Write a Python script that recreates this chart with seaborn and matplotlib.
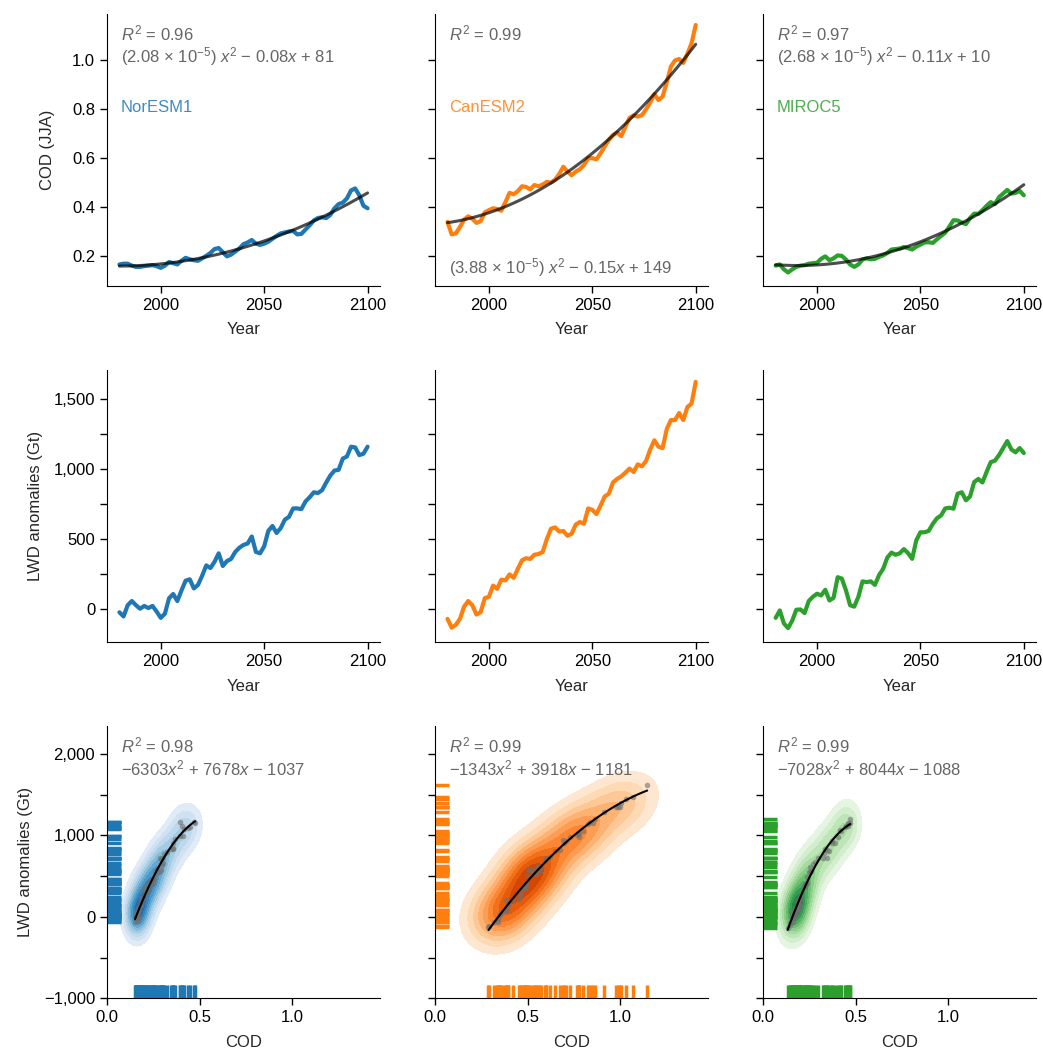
import numpy as np
import matplotlib
matplotlib.use('Agg')
import matplotlib.pyplot as plt
import seaborn as sns
from matplotlib.ticker import FuncFormatter

# Yillar (iki yilda bir okunan degerler)
years = np.arange(1980, 2101, 2)

models = ["NorESM1", "CanESM2", "MIROC5"]
colors = ["#1f77b4", "#ff7f0e", "#2ca02c"]
cmaps = ["Blues", "Oranges", "Greens"]

# COD (JJA) zaman serileri
cod_noresm = [0.165, 0.168, 0.168, 0.160, 0.155, 0.155, 0.158, 0.160, 0.162, 0.158,
              0.151, 0.160, 0.175, 0.170, 0.165, 0.180, 0.192, 0.186, 0.182, 0.180,
              0.190, 0.200, 0.212, 0.228, 0.232, 0.215, 0.198, 0.205, 0.218, 0.230,
              0.248, 0.255, 0.265, 0.250, 0.245, 0.250, 0.258, 0.270, 0.282, 0.292,
              0.296, 0.300, 0.302, 0.288, 0.290, 0.308, 0.325, 0.345, 0.355, 0.358,
              0.355, 0.368, 0.395, 0.412, 0.418, 0.435, 0.468, 0.476, 0.448, 0.405,
              0.395]
cod_canesm = [0.339, 0.288, 0.292, 0.318, 0.348, 0.362, 0.352, 0.335, 0.342, 0.378,
              0.387, 0.395, 0.392, 0.385, 0.420, 0.458, 0.452, 0.465, 0.485, 0.482,
              0.472, 0.490, 0.485, 0.492, 0.503, 0.500, 0.512, 0.535, 0.565, 0.545,
              0.530, 0.545, 0.555, 0.572, 0.600, 0.600, 0.595, 0.620, 0.648, 0.675,
              0.695, 0.705, 0.690, 0.728, 0.765, 0.775, 0.770, 0.776, 0.800, 0.828,
              0.862, 0.838, 0.852, 0.910, 0.975, 1.000, 1.006, 0.990, 1.028, 1.070,
              1.145]
cod_miroc = [0.160, 0.165, 0.145, 0.132, 0.145, 0.155, 0.160, 0.162, 0.168, 0.170,
             0.172, 0.188, 0.198, 0.182, 0.190, 0.202, 0.200, 0.185, 0.165, 0.155,
             0.165, 0.185, 0.190, 0.186, 0.188, 0.196, 0.202, 0.212, 0.226, 0.228,
             0.230, 0.236, 0.232, 0.226, 0.238, 0.246, 0.255, 0.256, 0.253, 0.268,
             0.282, 0.295, 0.320, 0.346, 0.345, 0.336, 0.330, 0.355, 0.373, 0.372,
             0.387, 0.405, 0.420, 0.412, 0.440, 0.455, 0.470, 0.455, 0.458, 0.466,
             0.448]

# LWD anomalileri (Gt)
lwd_noresm = [-20, -50, 30, 60, 30, 5, 25, 10, 25, -15,
              -60, -30, 80, 110, 60, 135, 205, 215, 150, 175,
              240, 314, 295, 340, 400, 310, 345, 360, 410, 440,
              460, 470, 520, 410, 400, 450, 560, 595, 545, 580,
              640, 660, 720, 720, 715, 770, 800, 835, 830, 850,
              905, 955, 990, 995, 1075, 1090, 1160, 1155, 1100, 1110,
              1160]
lwd_canesm = [-67, -130, -110, -67, 20, 60, 30, -36, -20, 80,
              90, 170, 147, 212, 207, 250, 225, 290, 350, 365,
              360, 390, 395, 410, 500, 575, 585, 555, 559, 525,
              540, 605, 623, 611, 720, 710, 680, 740, 805, 825,
              905, 930, 948, 975, 1004, 980, 1034, 1020, 1058, 1140,
              1205, 1160, 1150, 1285, 1350, 1350, 1400, 1350, 1443, 1467,
              1622]
lwd_miroc = [-60, -7, -100, -133, -80, -2, 0, -26, 60, 90,
             112, 100, 140, 64, 83, 230, 220, 136, 30, 20,
             90, 200, 195, 200, 175, 245, 290, 370, 405, 390,
             400, 430, 402, 361, 492, 550, 550, 560, 610, 650,
             670, 720, 725, 718, 825, 835, 778, 805, 908, 930,
             905, 980, 1050, 1060, 1100, 1150, 1200, 1140, 1120, 1150,
             1115]

cod_all = [cod_noresm, cod_canesm, cod_miroc]
lwd_all = [lwd_noresm, lwd_canesm, lwd_miroc]

# Panel metinleri
r2_time = ["0.96", "0.99", "0.97"]
eq_time = [r"(2.08 × 10$^{-5}$) $x^2$ − 0.08$x$ + 81",
           r"(3.88 × 10$^{-5}$) $x^2$ − 0.15$x$ + 149",
           r"(2.68 × 10$^{-5}$) $x^2$ − 0.11$x$ + 10"]
r2_scatter = ["0.98", "0.99", "0.99"]
eq_scatter = [r"−6303$x^2$ + 7678$x$ − 1037",
              r"−1343$x^2$ + 3918$x$ − 1181",
              r"−7028$x^2$ + 8044$x$ − 1088"]

sns.set_style("ticks")
plt.rcParams['font.family'] = ['Liberation Sans', 'DejaVu Sans']
plt.rcParams['mathtext.fontset'] = 'custom'
plt.rcParams['mathtext.rm'] = 'Liberation Sans'
plt.rcParams['mathtext.it'] = 'Liberation Sans:italic'
plt.rcParams['font.size'] = 12
plt.rcParams['axes.labelsize'] = 12
plt.rcParams['xtick.labelsize'] = 12
plt.rcParams['ytick.labelsize'] = 12
plt.rcParams['axes.edgecolor'] = 'black'
plt.rcParams['xtick.color'] = 'black'
plt.rcParams['ytick.color'] = 'black'


def fmt_num(v, pos=None):
    return f"{v:,.0f}".replace('-', '−')


def fmt_sparse(step):
    # yalnizca belirli adimlarda etiket yaz
    def f(v, pos=None):
        if abs(v / step - round(v / step)) < 1e-6:
            return fmt_num(v)
        return ""
    return FuncFormatter(f)


def kde_fill(ax, x, y, cmap, n_levels=10, bw_scale=0.9):
    # eksen bazinda ayri bant genisligi (normal referans) ile 2B yogunluk
    n = len(x)
    bwx = bw_scale * 1.06 * x.std(ddof=1) * n ** (-1 / 6)
    bwy = bw_scale * 1.06 * y.std(ddof=1) * n ** (-1 / 6)
    gx = np.linspace(x.min() - 3 * bwx, x.max() + 3 * bwx, 200)
    gy = np.linspace(y.min() - 3 * bwy, y.max() + 3 * bwy, 200)
    xx, yy = np.meshgrid(gx, gy)
    z = np.zeros_like(xx)
    for xi, yi in zip(x, y):
        z += np.exp(-0.5 * ((xx - xi) / bwx) ** 2 - 0.5 * ((yy - yi) / bwy) ** 2)
    levels = np.linspace(0, z.max(), n_levels + 1)
    ax.contourf(xx, yy, z, levels=levels[1:], cmap=cmap, vmin=0, vmax=1.25 * z.max())


fig, axes = plt.subplots(3, 3, figsize=(10.43, 10.54), dpi=100)
fig.subplots_adjust(left=0.1026, right=0.9935, top=0.9867, bottom=0.0528,
                    wspace=0.202, hspace=0.31)

txt_color = '#666666'

for j in range(3):
    cod = np.array(cod_all[j])
    lwd = np.array(lwd_all[j], dtype=float)
    color = colors[j]

    # 1. satir: COD zaman serisi + ikinci derece uyum
    ax = axes[0, j]
    sns.lineplot(x=years, y=cod, ax=ax, color=color, lw=3)
    p = np.polyfit(years, cod, 2)
    ax.plot(years, np.polyval(p, years), color='black', lw=2.2, alpha=0.7)
    ax.set_xlim(1974, 2106)
    ax.set_ylim(0.077, 1.19)
    ax.set_yticks([0.2, 0.4, 0.6, 0.8, 1.0])
    ax.set_xticks([2000, 2050, 2100])
    ax.set_xlabel("Year", labelpad=7)
    ax.text(0.05, 0.93, r"$R^2$ = " + r2_time[j], transform=ax.transAxes,
            color=txt_color, va='center')
    if j == 1:
        ax.text(0.05, 0.066, eq_time[j], transform=ax.transAxes,
                color=txt_color, va='center')
    else:
        ax.text(0.05, 0.845, eq_time[j], transform=ax.transAxes,
                color=txt_color, va='center')
    ax.text(0.05, 0.655, models[j], transform=ax.transAxes, color=color,
            alpha=0.85, va='center')
    if j == 0:
        ax.set_ylabel("COD (JJA)", labelpad=12)
    else:
        ax.set_yticklabels([])

    # 2. satir: LWD zaman serisi
    ax = axes[1, j]
    sns.lineplot(x=years, y=lwd, ax=ax, color=color, lw=3)
    ax.set_xlim(1974, 2106)
    ax.set_ylim(-233, 1705)
    ax.set_yticks(np.arange(0, 1501, 250))
    ax.set_xticks([2000, 2050, 2100])
    ax.set_xlabel("Year", labelpad=7)
    if j == 0:
        ax.yaxis.set_major_formatter(fmt_sparse(500))
        ax.set_ylabel("LWD anomalies (Gt)", labelpad=8)
    else:
        ax.set_yticklabels([])

    # 3. satir: COD - LWD yogunluk grafigi
    ax = axes[2, j]
    kde_fill(ax, cod, lwd, cmaps[j])
    ax.scatter(cod, lwd, s=16, color='#707070', alpha=0.6, lw=0, zorder=3)
    q = np.polyfit(cod, lwd, 2)
    xs = np.linspace(cod.min(), cod.max(), 100)
    ax.plot(xs, np.polyval(q, xs), color='black', lw=1.5, zorder=4)
    sns.rugplot(x=cod, ax=ax, color=color, height=0.05, linewidth=2.5, alpha=1)
    sns.rugplot(y=lwd, ax=ax, color=color, height=0.05, linewidth=2.5, alpha=1)
    ax.set_xlim(0, 1.474)
    ax.set_ylim(-1000, 2337)
    ax.set_xticks([0.0, 0.5, 1.0])
    ax.xaxis.set_major_formatter(FuncFormatter(lambda v, pos: f"{v:.1f}"))
    ax.set_yticks(np.arange(-1000, 2001, 500))
    ax.set_xlabel("COD", labelpad=7)
    ax.text(0.05, 0.93, r"$R^2$ = " + r2_scatter[j], transform=ax.transAxes,
            color=txt_color, va='center')
    ax.text(0.05, 0.845, eq_scatter[j], transform=ax.transAxes,
            color=txt_color, va='center')
    if j == 0:
        ax.yaxis.set_major_formatter(fmt_sparse(1000))
        ax.set_ylabel("LWD anomalies (Gt)", labelpad=8)
    else:
        ax.set_yticklabels([])
        ax.set_ylabel("")

for ax in axes.flat:
    sns.despine(ax=ax)
    ax.tick_params(direction='out', length=5, width=1)

fig.savefig("out.png", dpi=100)
plt.close('all')
